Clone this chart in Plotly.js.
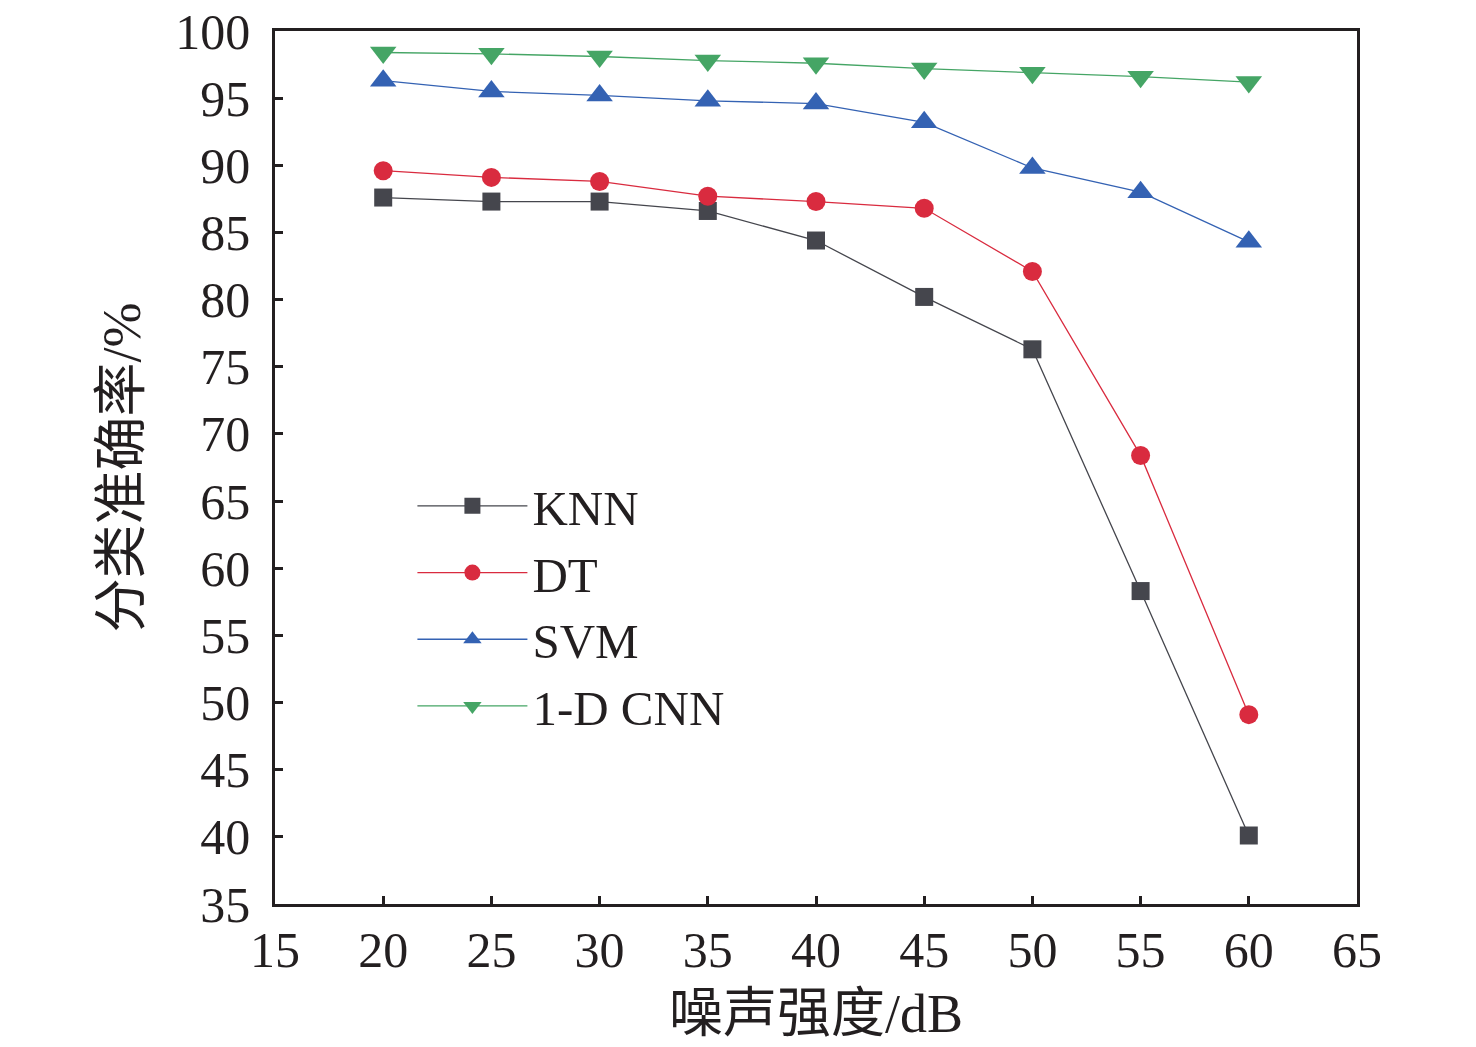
<!DOCTYPE html>
<html>
<head>
<meta charset="utf-8">
<script src="https://cdn.plot.ly/plotly-3.0.1.min.js"></script>
<style>
  html, body { margin: 0; padding: 0; background: #fff; }
  #chart { width: 1476px; height: 1047px; }
</style>
</head>
<body>
<div id="chart"></div>
<script>
// noise level in dB
const noise = [20, 25, 30, 35, 40, 45, 50, 55, 60];

const knn = [87.6, 87.3, 87.3, 86.6, 84.4, 80.2, 76.3, 58.3, 40.1];
const dt = [89.6, 89.1, 88.8, 87.7, 87.3, 86.8, 82.1, 68.4, 49.1];
const svm = [96.3, 95.5, 95.2, 94.8, 94.6, 93.2, 89.8, 88.0, 84.3];
const cnn = [98.4, 98.3, 98.1, 97.8, 97.6, 97.2, 96.9, 96.6, 96.2];

const names = ["KNN", "DT", "SVM", "1-D CNN"];
const colors = ["#45464d", "#d92b3f", "#3462b3", "#45a565"];
const symbols = ["square", "circle", "triangle-up", "triangle-down"];
const sizes = [18, 19, 23, 23];

const series = [knn, dt, svm, cnn];
const traces = series.map((ys, i) => ({
  x: noise,
  y: ys,
  name: names[i],
  type: "scatter",
  mode: "lines+markers",
  line: { color: colors[i], width: 1.3 },
  marker: { symbol: symbols[i], size: sizes[i], color: colors[i] }
}));

const font = "Liberation Serif, Times New Roman, Noto Sans CJK SC, serif";

const layout = {
  width: 1476,
  height: 1047,
  margin: { l: 275, r: 119, t: 31, b: 143 },
  paper_bgcolor: "#fff",
  plot_bgcolor: "#fff",
  font: { family: font, size: 44, color: "#231f20" },
  showlegend: true,
  legend: {
    x: 0.127, y: 0.5, xanchor: "left", yanchor: "top",
    bgcolor: "rgba(0,0,0,0)",
    itemwidth: 110,
    font: { family: font, size: 49, color: "#231f20" },
    tracegroupgap: 0
  },
  xaxis: {
    range: [15, 65],
    tickvals: [15, 20, 25, 30, 35, 40, 45, 50, 55, 60, 65],
    ticks: "inside", ticklen: 8, tickwidth: 2.5, tickcolor: "#231f20",
    showline: true, linecolor: "#231f20", linewidth: 2.5, mirror: true,
    showgrid: false, zeroline: false,
    tickfont: { family: font, size: 50 },
    title: { text: "噪声强度/dB", font: { family: font, size: 54 }, standoff: 18 }
  },
  yaxis: {
    range: [35, 100],
    tickvals: [35, 40, 45, 50, 55, 60, 65, 70, 75, 80, 85, 90, 95, 100],
    ticks: "inside", ticklen: 8, tickwidth: 2.5, tickcolor: "#231f20",
    showline: true, linecolor: "#231f20", linewidth: 2.5, mirror: true,
    showgrid: false, zeroline: false,
    ticklabelstandoff: 12,
    tickfont: { family: font, size: 50 },
    title: { text: "分类准确率/%", font: { family: font, size: 54 }, standoff: 18 }
  }
};

Plotly.newPlot("chart", traces, layout, { displayModeBar: false, responsive: false });
</script>
</body>
</html>
